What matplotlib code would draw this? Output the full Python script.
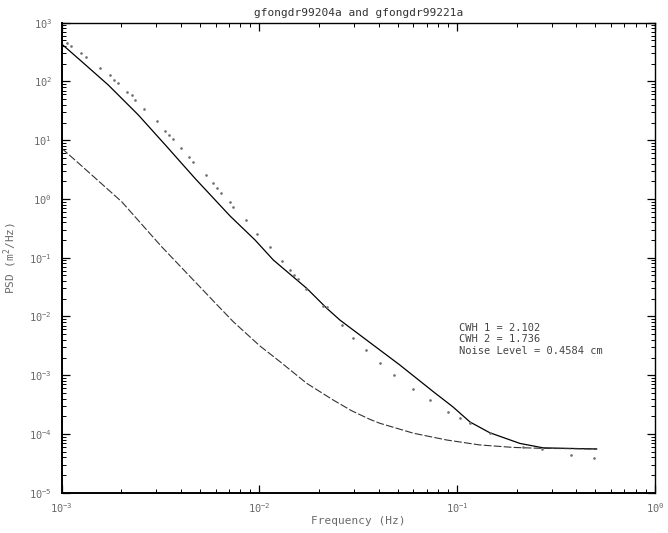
import numpy as np
import matplotlib
matplotlib.use("Agg")
import matplotlib.pyplot as plt
from matplotlib.ticker import LogLocator, LogFormatterMathtext, NullFormatter

# fitted model, first record
fit1_freq = [1.0e-3, 1.3e-3, 1.72e-3, 2.44e-3, 3.46e-3, 4.72e-3, 7.1e-3, 9.5e-3, 0.01175,
             0.01734, 0.0219, 0.0255, 0.0513, 0.0757, 0.0950, 0.116, 0.146, 0.2075, 0.272, 0.507]
fit1_psd = [434, 200, 87, 26.9, 7.28, 2.24, 0.513, 0.2, 0.0914,
            0.0301, 0.01377, 8.7e-3, 1.49e-3, 5.24e-4, 2.9e-4, 1.6e-4, 1.05e-4, 6.9e-5, 5.8e-5, 5.55e-5]

# fitted model, second record
fit2_freq = [1.0e-3, 1.262e-3, 2.01e-3, 2.74e-3, 3.2e-3, 4.72e-3, 5.96e-3, 7.37e-3,
             0.01006, 0.0127, 0.01733, 0.0236, 0.0292, 0.0362, 0.0406, 0.06,
             0.0883, 0.130, 0.192, 0.262, 0.507]
fit2_psd = [7.28, 3.64, 0.898, 0.277, 0.154, 0.039, 0.01714, 8.14e-3,
            3.14e-3, 1.7e-3, 7.28e-4, 3.78e-4, 2.49e-4, 1.77e-4, 1.52e-4, 1.03e-4,
            7.9e-5, 6.5e-5, 5.9e-5, 5.7e-5, 5.55e-5]

# measured spectrum, first record
obs_freq = [1.06e-3, 1.114e-3, 1.252e-3, 1.327e-3, 1.563e-3, 1.755e-3, 1.838e-3, 1.932e-3,
            2.13e-3, 2.275e-3, 2.35e-3, 2.617e-3, 3.02e-3, 3.33e-3, 3.50e-3, 3.64e-3,
            4.01e-3, 4.40e-3, 4.63e-3, 5.35e-3, 5.84e-3, 6.12e-3, 6.39e-3, 7.10e-3,
            7.37e-3, 8.51e-3, 9.75e-3, 0.0113, 0.01295, 0.01426, 0.01494, 0.0157,
            0.01718, 0.02087, 0.02186, 0.02603, 0.0298, 0.03455, 0.04066, 0.0479,
            0.0599, 0.0728, 0.090, 0.1032, 0.116, 0.1463, 0.2157, 0.267, 0.3745, 0.493]
obs_psd = [446, 401, 301, 264, 167, 129, 106, 93,
           67, 58.8, 48.3, 34, 21.2, 14.3, 12.3, 10.5,
           7.37, 5.24, 4.31, 2.56, 1.85, 1.52, 1.28, 0.898,
           0.738, 0.438, 0.25, 0.150, 0.0879, 0.0618, 0.0508, 0.0434,
           0.0299, 0.01524, 0.01466, 7.15e-3, 4.25e-3, 2.69e-3, 1.63e-3, 1.02e-3,
           5.82e-4, 3.78e-4, 2.34e-4, 1.89e-4, 1.52e-4, 1.03e-4, 6.07e-5, 5.55e-5, 4.38e-5, 3.94e-5]

title = "gfongdr99204a and gfongdr99221a"
info_lines = ["CWH 1 = 2.102", "CWH 2 = 1.736", "Noise Level = 0.4584 cm"]

mono = "DejaVu Sans Mono"
grey = "#6a6a6a"

fig = plt.figure(figsize=(6.68, 5.33), dpi=100)
ax = fig.add_axes([0.0924, 0.0756, 0.8881, 0.8818])

ax.plot(fit1_freq, fit1_psd, color="k", lw=0.9)
ax.plot(fit2_freq, fit2_psd, color="#333333", lw=0.8, ls=(0, (7, 2)))
ax.plot(obs_freq, obs_psd, ls="none", marker=".", ms=1.8, color="#707070")

ax.set_xscale("log")
ax.set_yscale("log")
ax.set_xlim(1e-3, 1e0)
ax.set_ylim(1e-5, 1e3)

ax.xaxis.set_major_locator(LogLocator(base=10, numticks=10))
ax.yaxis.set_major_locator(LogLocator(base=10, numticks=12))
ax.xaxis.set_minor_locator(LogLocator(base=10, subs=np.arange(2, 10), numticks=20))
ax.yaxis.set_minor_locator(LogLocator(base=10, subs=np.arange(2, 10), numticks=20))
ax.xaxis.set_major_formatter(LogFormatterMathtext())
ax.yaxis.set_major_formatter(LogFormatterMathtext())
ax.xaxis.set_minor_formatter(NullFormatter())
ax.yaxis.set_minor_formatter(NullFormatter())

ax.tick_params(which="both", direction="in", top=True, right=True, colors="k",
               labelcolor=grey, labelsize=7.5)
ax.tick_params(which="major", length=6, width=0.9)
ax.tick_params(which="minor", length=3, width=0.7)
ax.tick_params(axis="y", pad=7)
ax.tick_params(axis="x", pad=6)
for lab in ax.get_xticklabels() + ax.get_yticklabels():
    lab.set_family(mono)

for side in ["left", "bottom"]:
    ax.spines[side].set_linewidth(1.4)
for side in ["top", "right"]:
    ax.spines[side].set_linewidth(1.0)

ax.set_title(title, fontsize=8, family=mono, color="#333333", pad=5)
ax.set_xlabel("Frequency (Hz)", fontsize=8, family=mono, color=grey)
ax.set_ylabel("PSD (m$^2$/Hz)", fontsize=8, family=mono, color=grey)
ax.xaxis.set_label_coords(0.5, -0.05)
ax.yaxis.set_label_coords(-0.072, 0.5)

ax.text(0.67, 0.362, "\n".join(info_lines), transform=ax.transAxes,
        fontsize=7.5, family=mono, color="#444444", va="top", linespacing=1.2)

fig.savefig("out.png", dpi=100)
